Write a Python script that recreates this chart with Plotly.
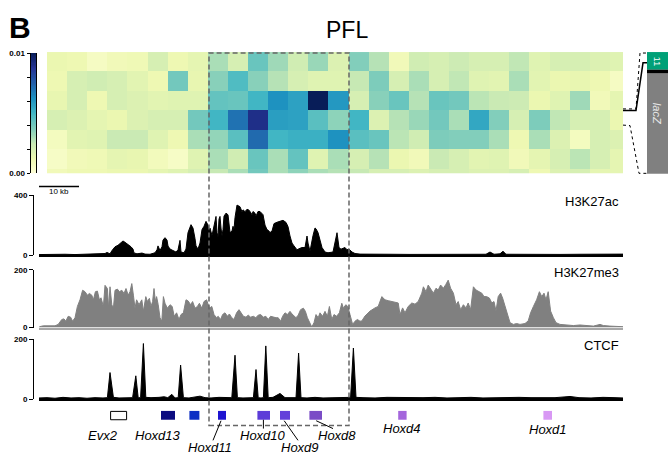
import plotly.graph_objects as go
import numpy as np

W, H = 668, 462
def fx(p): return p / W
def fy(p): return 1 - p / H

FONT = "Arial, Liberation Sans, sans-serif"

# ---------------- data ----------------
# 4C-like contact heatmap (units of 0.01), 7 rows x 29 bins
HEAT = [
 [0.13,0.12,0.07,0.10,0.11,0.20,0.12,0.15,0.30,0.20,0.42,0.32,0.22,0.33,0.18,0.37,0.28,0.10,0.22,0.20,0.23,0.20,0.20,0.26,0.17,0.20,0.20,0.18,0.17],
 [0.12,0.20,0.22,0.20,0.16,0.12,0.40,0.14,0.36,0.47,0.36,0.28,0.20,0.17,0.17,0.25,0.38,0.20,0.30,0.20,0.26,0.17,0.16,0.30,0.16,0.13,0.14,0.12,0.07],
 [0.14,0.20,0.12,0.20,0.18,0.16,0.17,0.17,0.43,0.42,0.50,0.62,0.57,1.00,0.60,0.20,0.36,0.42,0.28,0.42,0.40,0.27,0.24,0.23,0.13,0.17,0.32,0.10,0.15],
 [0.20,0.18,0.15,0.13,0.18,0.20,0.20,0.40,0.50,0.70,0.90,0.58,0.57,0.45,0.35,0.50,0.18,0.28,0.33,0.40,0.30,0.55,0.37,0.20,0.38,0.26,0.20,0.20,0.13],
 [0.08,0.16,0.17,0.24,0.24,0.17,0.12,0.30,0.34,0.45,0.72,0.50,0.52,0.52,0.62,0.45,0.42,0.27,0.22,0.38,0.37,0.37,0.30,0.12,0.30,0.18,0.08,0.20,0.18],
 [0.06,0.10,0.11,0.15,0.14,0.09,0.06,0.17,0.30,0.22,0.42,0.30,0.43,0.17,0.30,0.20,0.28,0.13,0.10,0.24,0.20,0.16,0.17,0.10,0.15,0.20,0.27,0.20,0.15],
 [0.10,0.12,0.12,0.13,0.13,0.15,0.17,0.20,0.25,0.30,0.40,0.30,0.35,0.30,0.28,0.25,0.20,0.20,0.18,0.20,0.20,0.18,0.18,0.20,0.12,0.18,0.20,0.15,0.15],
]
HEAT_MAX = 0.01
CBAR_TICKS = [0, 0.002, 0.004, 0.006, 0.008, 0.01]
CBAR_LABELS = ["0.00", "", "", "", "", "0.01"]

# ChIP tracks: (position kb, signal)
AC = [(0,3),(1.5,4),(4,3),(6.5,5),(9,3),(11.5,4),(14,5),(15.25,8),(16.5,10),(17,17),(17.75,8),(18.25,30),(19,55),(19.75,65),(20.5,80),(21,94),(21.5,85),(22.25,72),(23,55),(23.5,40),(23.75,14),(24.5,8),(25.75,13),(26.5,6),(27.75,5),(29,15),(29.5,35),(29.75,61),(30.25,30),(30.75,55),(31,100),(31.5,116),(32,100),(32.25,60),(32.75,40),(33.5,30),(34.25,20),(34.75,35),(35.25,98),(35.5,20),(36.25,15),(36.75,40),(37.25,150),(38,203),(38.5,180),(39,110),(39.25,61),(39.75,40),(40.25,80),(40.75,170),(41.25,192),(41.75,225),(42.25,200),(42.5,160),(42.75,180),(43.25,130),(43.75,200),(44.25,258),(44.5,150),(44.75,120),(45,240),(45.25,258),(45.5,180),(45.75,127),(46,170),(46.25,260),(46.75,280),(47.25,269),(47.75,150),(48.25,160),(48.5,192),(48.75,170),(49,250),(49.5,334),(50.25,323),(50.75,290),(51,302),(51.5,290),(52,306),(52.5,300),(52.75,291),(53.25,270),(53.5,291),(54,280),(54.25,260),(54.75,291),(55.25,291),(56,270),(56.5,200),(57,170),(57.5,160),(57.75,150),(58.25,160),(58.75,210),(59.5,219),(60.25,225),(61,232),(61.75,218),(62.25,190),(62.75,127),(63.25,80),(63.75,61),(64.5,35),(65.25,45),(65.75,50),(66.5,50),(66.75,100),(67,127),(67.25,80),(67.75,25),(68.5,130),(69,181),(69.25,175),(69.75,150),(70.25,100),(70.75,50),(71.5,20),(72.25,15),(73.5,20),(74,80),(74.5,149),(75,50),(75.5,39),(76,45),(76.5,50),(77,35),(77.5,40),(78.25,20),(79,10),(80.25,6),(82.75,4),(87.75,5),(92.75,4),(97.75,5),(102.75,4),(107.75,5),(111.75,5),(112.75,20),(113.75,5),(115.25,8),(116,25),(116.75,5),(120.25,4),(125.25,5),(130.25,4),(135.25,5),(140.25,6),(142.75,8),(144,10),(145.25,8),(146,6)]

ME3 = [(0.1,3),(1.1,6),(2.75,6),(4,6),(4.8,11),(5.7,28),(6.25,30),(6.7,22),(7.3,39),(7.9,36),(8.4,22),(9,34),(9.6,73),(10.25,96),(10.9,129),(11.5,124),(12.1,112),(12.6,118),(13.2,112),(13.6,96),(14.1,124),(14.6,126),(15.1,96),(15.5,103),(16.1,73),(16.5,146),(17.1,135),(17.4,67),(17.75,141),(18.2,79),(18.6,67),(19,129),(19.6,133),(20.1,124),(20.7,129),(21.25,118),(21.75,135),(22.3,112),(22.75,124),(23.2,152),(23.6,112),(24,67),(24.4,96),(25,79),(25.7,96),(26.1,56),(26.7,107),(27.1,90),(27.6,101),(28,73),(28.4,90),(28.75,135),(29.1,90),(29.4,107),(29.8,79),(30.25,34),(30.7,22),(31.1,107),(31.5,84),(32.1,67),(32.75,79),(33.3,73),(33.8,39),(34.4,51),(35,28),(35.5,45),(36.1,51),(36.75,96),(37.3,92),(37.9,79),(38.4,90),(39,67),(39.6,73),(40.1,84),(40.7,67),(41.25,90),(41.9,96),(42.6,67),(43.2,73),(43.75,45),(44.4,34),(44.8,39),(45.4,28),(45.9,45),(46.5,51),(47.1,39),(47.6,47),(48.2,34),(48.75,28),(49.4,51),(50,62),(50.6,51),(51.1,39),(51.75,36),(52.3,43),(52.9,36),(53.6,39),(54.2,34),(54.8,43),(55.4,45),(56.1,36),(56.7,39),(57.3,28),(57.9,39),(58.6,36),(59.25,34),(59.8,34),(60.4,22),(60.9,39),(61.5,51),(62.1,45),(62.75,56),(63.25,47),(63.75,39),(64.25,34),(64.8,43),(65.4,62),(66.1,67),(66.6,56),(67.1,34),(67.6,17),(68.2,2),(68.75,17),(69.25,45),(69.8,34),(70.25,51),(70.9,39),(71.5,56),(72.1,39),(72.6,73),(73.2,28),(73.75,45),(74.4,39),(75.1,51),(75.7,84),(76.1,67),(76.7,79),(77.2,73),(77.75,45),(78.4,11),(79,22),(79.6,28),(80.25,22),(80.7,23),(81.5,40),(82.75,57),(84,68),(84.8,73),(85.7,107),(86.5,96),(87.3,93),(88.2,90),(89,88),(89.8,85),(90.25,45),(90.9,68),(91.5,51),(92.3,73),(93.2,85),(94,81),(94.8,90),(95.7,119),(96.1,141),(96.75,124),(97.3,147),(97.9,136),(98.6,119),(99.25,136),(99.8,130),(100.4,147),(101.1,136),(101.7,149),(102.3,164),(102.9,136),(103.6,119),(104.25,79),(104.8,90),(105.4,62),(106.1,79),(106.75,68),(107.3,85),(107.9,62),(108.6,141),(109.25,130),(109.9,124),(110.7,119),(111.25,107),(111.9,107),(112.6,102),(113.2,85),(113.75,90),(114.25,57),(114.8,107),(115.4,119),(115.9,102),(116.5,73),(117.1,45),(117.75,17),(118.6,11),(119.4,14),(120.25,11),(121.5,14),(122.3,23),(122.9,51),(123.6,73),(124.4,96),(125.1,124),(125.7,107),(126.25,119),(126.75,96),(127.3,124),(127.9,57),(128.6,34),(129.25,17),(130.25,11),(131.9,9),(133.6,7),(135.25,9),(136.9,7),(138.6,5),(140.25,11),(141.1,7),(142.75,5),(144.4,5),(146,3)]

CTCF = [(0,4),(2,5),(4,3),(6,6),(8,4),(10,5),(12,3),(14,5),(16,4),(17.1,5),(17.75,89),(18.6,6),(20,4),(22,5),(23.4,5),(24.2,78),(24.8,5),(25.4,5),(26.1,186),(26.7,6),(28,5),(30,6),(31.3,8),(32.2,5),(33.2,16),(34,4),(34.8,5),(35.4,114),(36.1,5),(37.5,4),(39,6),(40.25,10),(41.5,5),(43,4),(45,6),(46.5,5),(48.2,5),(49,147),(49.6,5),(51,4),(52.5,6),(53.6,5),(54.25,99),(54.8,5),(55.5,4),(56.1,5),(56.7,178),(57.3,5),(58.5,6),(60.25,19),(61.5,5),(63,4),(64.25,5),(64.9,154),(65.5,5),(67,4),(69,6),(71,4),(73,5),(75,6),(77,5),(77.9,6),(78.6,171),(79.25,6),(81,5),(84,4),(87,6),(90,5),(93,4),(96,5),(99,6),(102,4),(105,5),(108,6),(111,4),(114,5),(117,4),(120,6),(123,5),(126,4),(129,5),(132.75,9),(135,5),(138,4),(141,6),(144,5),(146,4)]

TRACK_NAMES = ["H3K27ac", "H3K27me3", "CTCF"]
TRACK_MAX = [400, 200, 200]

GENES = ["Evx2", "Hoxd13", "Hoxd12", "Hoxd11", "Hoxd10", "Hoxd9", "Hoxd8", "Hoxd4", "Hoxd1"]
GENE_START = [17.9, 30.5, 37.6, 44.75, 54.6, 60.25, 67.6, 89.8, 126.1]
GENE_END = [21.9, 34.0, 40.1, 46.75, 57.75, 62.75, 70.75, 91.9, 128.25]
GENE_COLORS = [None, "#0b0b80", "#0c2ec4", "#1e14d0", "#5c3cd8", "#6440da", "#7a4cc6", "#a466dc", "#d898f4"]
GENE_LABELED = [True, True, False, True, True, True, True, True, True]

LOCUS_KB = 146
SCALE_KB = 10
ROI = (42.5, 77.5)  # dashed region, kb

YLGNBU = ['#ffffd9', '#edf8b1', '#c7e9b4', '#7fcdbb', '#41b6c4', '#1d91c0', '#225ea8', '#253494', '#081d58']
CS = [[i / (len(YLGNBU) - 1), c] for i, c in enumerate(YLGNBU)]

# ---------------- figure ----------------
fig = go.Figure()

z = [[v * HEAT_MAX for v in row] for row in HEAT]
nrow, ncol = len(z), len(z[0])
fig.add_trace(go.Heatmap(z=z, x=list(range(ncol)), y=list(range(nrow)), colorscale=CS,
                         zmin=0, zmax=HEAT_MAX, showscale=False, hoverinfo="skip",
                         xaxis="x", yaxis="y"))

# colour key
levels = np.linspace(0, HEAT_MAX, 101)
fig.add_trace(go.Heatmap(z=[[v] for v in levels], x=[0], y=levels, colorscale=CS,
                         zmin=0, zmax=HEAT_MAX, showscale=False, hoverinfo="skip",
                         xaxis="x2", yaxis="y2"))

track_data = [AC, ME3, CTCF]
track_fill = ["black", "#808080", "black"]
for i, data in enumerate(track_data):
    xs = [p for p, _ in data]
    ys = [v for _, v in data]
    n = i + 3
    fig.add_trace(go.Scatter(x=xs, y=ys, mode="lines", line=dict(color=track_fill[i], width=1),
                             fill="tozeroy", fillcolor=track_fill[i], hoverinfo="skip",
                             xaxis=f"x{n}", yaxis=f"y{n}", showlegend=False))

hid = dict(visible=False, showgrid=False, zeroline=False)
layout = dict(
    width=W, height=H, margin=dict(l=0, r=0, t=0, b=0), autosize=False,
    paper_bgcolor="white", plot_bgcolor="rgba(0,0,0,0)", showlegend=False,
    font=dict(family=FONT, color="black"),
    xaxis=dict(hid, domain=[fx(47), fx(623)], range=[-0.5, ncol - 1 + 0.15], anchor="y"),
    yaxis=dict(hid, domain=[fy(172.7), fy(49)], range=[nrow - 1.5 + 0.225, -0.5], anchor="x"),
    xaxis2=dict(hid, domain=[fx(30.5), fx(36)], range=[-0.5, 0.5], anchor="y2"),
    yaxis2=dict(domain=[fy(172.7), fy(50)], range=[0, HEAT_MAX], anchor="x2", showgrid=False,
                zeroline=False, showline=True, linecolor="black", linewidth=1, mirror=True,
                ticks="outside", ticklen=3, tickcolor="black", tickvals=CBAR_TICKS,
                ticktext=[f"<b>{t}</b>" if t else "" for t in CBAR_LABELS],
                tickfont=dict(size=8, family=FONT)),
)
track_dom = [(256, 195), (330, 271), (403, 342)]
base_col = ["black", "#a8a8a8", "black"]
for i in range(3):
    n = i + 3
    b, t = track_dom[i]
    layout[f"xaxis{n}"] = dict(domain=[fx(39), fx(623)], range=[0, LOCUS_KB], anchor=f"y{n}",
                               showgrid=False, zeroline=False, showticklabels=False, ticks="",
                               showline=True, linecolor=base_col[i], linewidth=2)
    layout[f"yaxis{n}"] = dict(domain=[fy(b), fy(t)], range=[0, TRACK_MAX[i]], anchor="free",
                               position=fx(33), showgrid=False, zeroline=False, showline=True,
                               linecolor="black", linewidth=1, ticks="outside", ticklen=4,
                               tickcolor="black", tickvals=[0, TRACK_MAX[i]],
                               ticktext=["<b>0</b>", f"<b>{TRACK_MAX[i]}</b>"],
                               tickfont=dict(size=8, family=FONT))
fig.update_layout(**layout)

shapes = []
ann = []

# scale bar
shapes.append(dict(type="line", xref="x3", yref="paper", x0=0, x1=SCALE_KB, y0=fy(186), y1=fy(186),
                   line=dict(color="black", width=1.5)))
ann.append(dict(text=f"{SCALE_KB} kb", xref="x3", yref="paper", x=SCALE_KB / 2, y=fy(191.5),
                showarrow=False, font=dict(size=8), xanchor="center", yanchor="middle"))

# dashed region
shapes.append(dict(type="rect", xref="x5", yref="paper", x0=ROI[0], x1=ROI[1], y0=fy(430), y1=fy(50),
                   line=dict(color="#666666", width=1.5, dash="5px,3px"), fillcolor="rgba(0,0,0,0)"))

# genes
for g, s, e, c in zip(GENES, GENE_START, GENE_END, GENE_COLORS):
    if c is None:
        shapes.append(dict(type="rect", xref="x5", yref="paper", x0=s, x1=e, y0=fy(424), y1=fy(415.5),
                           line=dict(color="black", width=1), fillcolor="white"))
    else:
        shapes.append(dict(type="rect", xref="x5", yref="paper", x0=s, x1=e, y0=fy(424), y1=fy(415),
                           line=dict(width=0), fillcolor=c))

# gene label placement (layout only): label x (kb), label y (px), leader line
label_place = {
    "Evx2": (16.0, 440, None),
    "Hoxd13": (29.75, 440, None),
    "Hoxd11": (42.75, 452, (45.5, 425, 43.5, 445)),
    "Hoxd10": (56.1, 440, (56.1, 424, 56.1, 433)),
    "Hoxd9": (65.25, 452, (61.3, 425, 64.75, 445)),
    "Hoxd8": (74.6, 440, (69.3, 425, 73.5, 433)),
    "Hoxd4": (90.75, 433, None),
    "Hoxd1": (127.2, 434, None),
}
for g, lab in zip(GENES, GENE_LABELED):
    if not lab:
        continue
    lx, ly, lead = label_place[g]
    ann.append(dict(text=f"<i>{g}</i>", xref="x5", yref="paper", x=lx, y=fy(ly), showarrow=False,
                    font=dict(size=13), xanchor="center", yanchor="middle"))
    if lead:
        shapes.append(dict(type="line", xref="x5", yref="paper", x0=lead[0], y0=fy(lead[1]),
                           x1=lead[2], y1=fy(lead[3]), line=dict(color="black", width=1)))

# track labels
for name, ypx in zip(TRACK_NAMES, [201, 273.5, 348]):
    ann.append(dict(text=name, xref="paper", yref="paper", x=fx(621), y=fy(ypx), showarrow=False,
                    font=dict(size=13), xanchor="right", yanchor="middle"))

# panel letter and title
ann.append(dict(text="<b>B</b>", xref="paper", yref="paper", x=fx(20), y=fy(24), showarrow=False,
                font=dict(size=30), xanchor="center", yanchor="middle"))
ann.append(dict(text="PFL", xref="paper", yref="paper", x=fx(347), y=fy(27), showarrow=False,
                font=dict(size=23), xanchor="center", yanchor="middle"))

# viewpoint schematic on the right
def path(pts):
    return "M " + " L ".join(f"{fx(a)},{fy(b)}" for a, b in pts)
shapes.append(dict(type="path", xref="paper", yref="paper",
                   path=path([(623, 107), (636, 107), (640, 50), (647, 50)]),
                   line=dict(color="black", width=1, dash="dot")))
shapes.append(dict(type="path", xref="paper", yref="paper",
                   path=path([(623, 108.5), (636, 108.5), (643, 60), (647, 60)]),
                   line=dict(color="black", width=1.5)))
shapes.append(dict(type="path", xref="paper", yref="paper",
                   path=path([(623, 123.5), (630, 124), (639, 172.7), (647, 172.7)]),
                   line=dict(color="black", width=1, dash="dot")))
shapes.append(dict(type="rect", xref="paper", yref="paper", x0=fx(647), x1=fx(668), y0=fy(67), y1=fy(49),
                   line=dict(width=0), fillcolor="#00a077"))
shapes.append(dict(type="rect", xref="paper", yref="paper", x0=fx(647), x1=fx(668), y0=fy(71), y1=fy(67),
                   line=dict(width=0), fillcolor="black"))
shapes.append(dict(type="rect", xref="paper", yref="paper", x0=fx(647), x1=fx(668), y0=fy(173), y1=fy(71),
                   line=dict(width=0), fillcolor="#808080"))
ann.append(dict(text="11", xref="paper", yref="paper", x=fx(657), y=fy(58), showarrow=False, textangle=90,
                font=dict(size=9, color="white"), xanchor="center", yanchor="middle"))
ann.append(dict(text="<i>lacZ</i>", xref="paper", yref="paper", x=fx(657), y=fy(112), showarrow=False,
                textangle=90, font=dict(size=11, color="#e8e8e8"), xanchor="center", yanchor="middle"))

fig.update_layout(shapes=shapes, annotations=ann)
fig.write_html("out.html", config={"responsive": False, "displayModeBar": False},
               post_script="document.body.style.margin='0';document.body.style.padding='0';")
